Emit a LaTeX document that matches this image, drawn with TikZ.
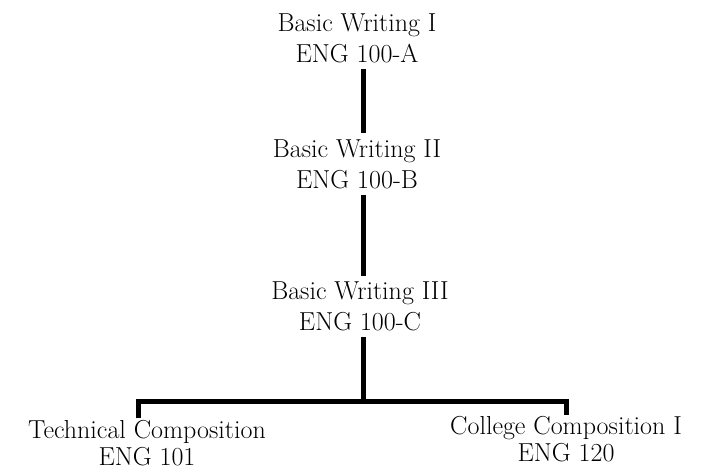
\documentclass[tikz,border=0pt]{standalone}
\usepackage{tikz}
\usetikzlibrary{positioning}
\tikzset{
    course/.style={align=center, inner sep=6pt, font=\fontsize{26}{31}\selectfont},
    lowcourse/.style={course, font=\fontsize{26}{26.5}\selectfont},
    branch/.style={draw=black, line width=5pt, line join=miter},
}

\begin{document}
\begin{tikzpicture}[x=1pt, y=-1pt]
	\useasboundingbox (0,0) rectangle (704,471);
	\node[course] (bw1) at (357,38.5) {Basic Writing I\\ENG 100-A};
	\node[course] (bw2) at (357,164) {Basic Writing II\\ENG 100-B};
	\node[course] (bw3) at (360,306.5) {Basic Writing III\\ENG 100-C};
	\node[lowcourse] (tc) at (147,443) {Technical Composition\\ENG 101};
	\node[lowcourse] (cc) at (566,439) {College Composition I\\ENG 120};
	\coordinate (fork) at (363,401);
	\draw[branch] ([xshift=6pt]bw1.south) -- ([xshift=6pt]bw2.north);
	\draw[branch] ([xshift=6pt]bw2.south) -- ([xshift=3pt]bw3.north);
	\draw[branch] ([xshift=3pt]bw3.south) -- (fork);
	\draw[branch] ([xshift=-9pt,yshift=-4pt]tc.north) |- (fork) -| ([yshift=-5pt]cc.north);
\end{tikzpicture}
\end{document}
